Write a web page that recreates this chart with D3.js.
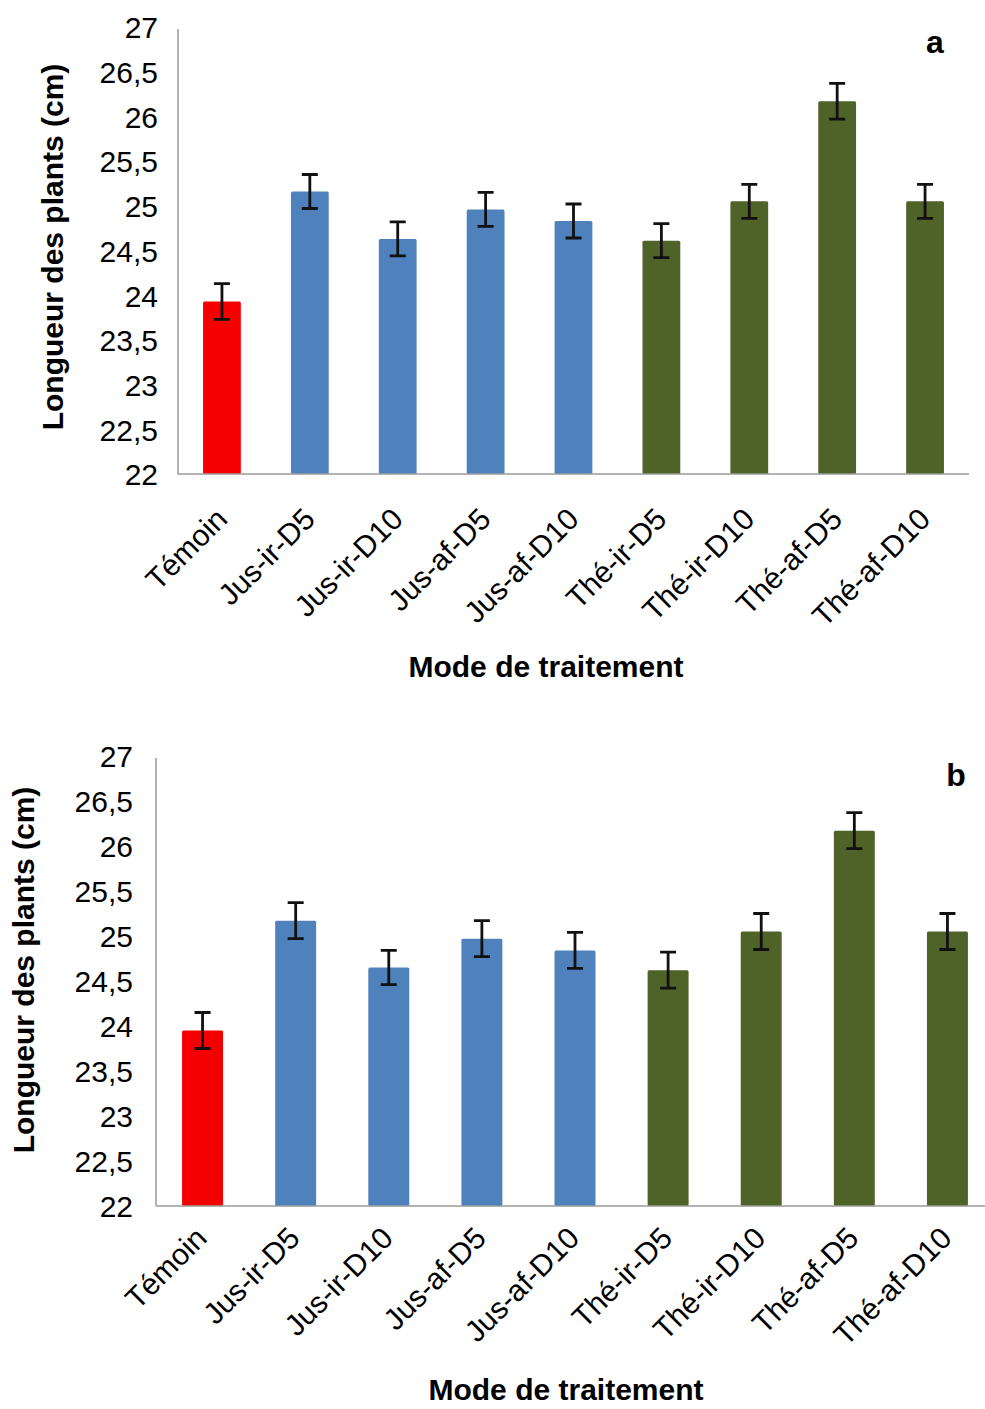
<!DOCTYPE html>
<html>
<head>
<meta charset="utf-8">
<script src="https://cdn.jsdelivr.net/npm/d3@7"></script>
<style>
  html, body { margin: 0; padding: 0; background: #ffffff; }
  svg { display: block; }
  text { font-family: "Liberation Sans", Arial, sans-serif; fill: #000; }
</style>
</head>
<body>
<svg id="fig" width="985" height="1409"></svg>
<script>
// Treatment modes along the x axis
const categories = ["Témoin", "Jus-ir-D5", "Jus-ir-D10", "Jus-af-D5", "Jus-af-D10",
                    "Thé-ir-D5", "Thé-ir-D10", "Thé-af-D5", "Thé-af-D10"];
// Treatment family of each mode (sets the bar colour)
const families = ["Témoin", "Jus", "Jus", "Jus", "Jus", "Thé", "Thé", "Thé", "Thé"];

// Panel a: mean plant length (cm) and error
const lengthA = [23.93, 25.16, 24.63, 24.96, 24.83, 24.61, 25.05, 26.17, 25.05];
const errorA  = [0.20, 0.19, 0.19, 0.19, 0.19, 0.19, 0.19, 0.20, 0.19];

// Panel b: mean plant length (cm) and error
const lengthB = [23.95, 25.17, 24.65, 24.97, 24.84, 24.62, 25.05, 26.17, 25.05];
const errorB  = [0.20, 0.20, 0.19, 0.20, 0.20, 0.20, 0.20, 0.20, 0.20];

// Y axis ticks
const yTicks = [22, 22.5, 23, 23.5, 24, 24.5, 25, 25.5, 26, 26.5, 27];

const familyColor = d3.scaleOrdinal()
  .domain(["Témoin", "Jus", "Thé"])
  .range(["#f40000", "#4f81bd", "#4f6228"]);

const fmt = v => String(v).replace(".", ",");
const svg = d3.select("#fig");

function drawPanel(p) {
  const g = svg.append("g");
  const x = d3.scaleBand().domain(categories).range([p.x0, p.x1]).paddingInner(p.pad).paddingOuter(p.pad / 2);
  const y = d3.scaleLinear().domain([22, 27]).range([p.yBottom, p.yTop]);

  // Y axis: line plus labels
  const yAxis = d3.axisLeft(y).tickValues(yTicks).tickFormat(fmt).tickSize(0).tickPadding(p.tickPad);
  const ya = g.append("g").attr("transform", `translate(${p.x0},0)`).call(yAxis);
  ya.select(".domain").attr("stroke", "#9a9a9a").attr("stroke-width", 1.5)
    .attr("d", `M0,${p.yTop + 2}V${p.yBottom}`);
  ya.selectAll("text").attr("font-size", 30).attr("font-family", "Liberation Sans, Arial, sans-serif")
    .attr("fill", "#111").attr("dy", "0.36em");

  // Bars
  g.selectAll("rect.bar").data(p.values).join("rect")
    .attr("class", "bar")
    .attr("x", (d, i) => x(categories[i]))
    .attr("width", x.bandwidth())
    .attr("y", d => y(d))
    .attr("height", d => y(22) - y(d))
    .attr("rx", 1.5)
    .attr("fill", (d, i) => familyColor(families[i]));

  // X axis line
  const xAxis = d3.axisBottom(x).tickSize(0).tickFormat("");
  const xa = g.append("g").attr("transform", `translate(0,${p.yBottom})`).call(xAxis);
  xa.select(".domain").attr("stroke", "#9a9a9a").attr("stroke-width", 1.5)
    .attr("d", `M${p.x0},0H${p.x1}`);

  // Error bars
  const cap = 8;
  const eb = g.selectAll("g.err").data(p.values).join("g").attr("class", "err")
    .attr("transform", (d, i) => `translate(${x(categories[i]) + x.bandwidth() / 2},0)`);
  eb.append("path")
    .attr("d", (d, i) => {
      const t = y(d + p.errors[i]), b = y(d - p.errors[i]);
      return `M0,${t}V${b}M${-cap},${t}H${cap}M${-cap},${b}H${cap}`;
    })
    .attr("stroke", "#111").attr("stroke-width", 2.8).attr("fill", "none");

  // Rotated category labels
  g.selectAll("text.cat").data(categories).join("text")
    .attr("class", "cat")
    .attr("text-anchor", "end")
    .attr("font-size", 30)
    .attr("transform", d => `translate(${x(d) + x.bandwidth() / 2 + p.labDx},${p.yBottom + p.labDy}) rotate(-45)`)
    .text(d => d);

  // Axis titles
  g.append("text")
    .attr("text-anchor", "middle")
    .attr("font-size", 30).attr("font-weight", "bold")
    .attr("transform", `translate(${p.yTitleX},${p.yTitleY}) rotate(-90)`)
    .text("Longueur des plants (cm)");
  g.append("text")
    .attr("text-anchor", "middle")
    .attr("font-size", 30).attr("font-weight", "bold")
    .attr("x", p.xTitleX).attr("y", p.xTitleY)
    .text("Mode de traitement");

  // Panel letter
  g.append("text")
    .attr("text-anchor", "middle")
    .attr("font-size", 32).attr("font-weight", "bold")
    .attr("x", p.letterX).attr("y", p.letterY)
    .text(p.letter);
}

drawPanel({
  values: lengthA, errors: errorA, letter: "a",
  x0: 178, x1: 969, yTop: 27, yBottom: 474, pad: 0.57, tickPad: 20,
  labDx: 7, labDy: 47,
  yTitleX: 63, yTitleY: 247, xTitleX: 546, xTitleY: 677,
  letterX: 935, letterY: 53
});

drawPanel({
  values: lengthB, errors: errorB, letter: "b",
  x0: 156, x1: 994, yTop: 756, yBottom: 1206, pad: 0.56, tickPad: 23,
  labDx: 6, labDy: 34,
  yTitleX: 34, yTitleY: 970, xTitleX: 566, xTitleY: 1400,
  letterX: 956, letterY: 786
});
</script>
</body>
</html>
